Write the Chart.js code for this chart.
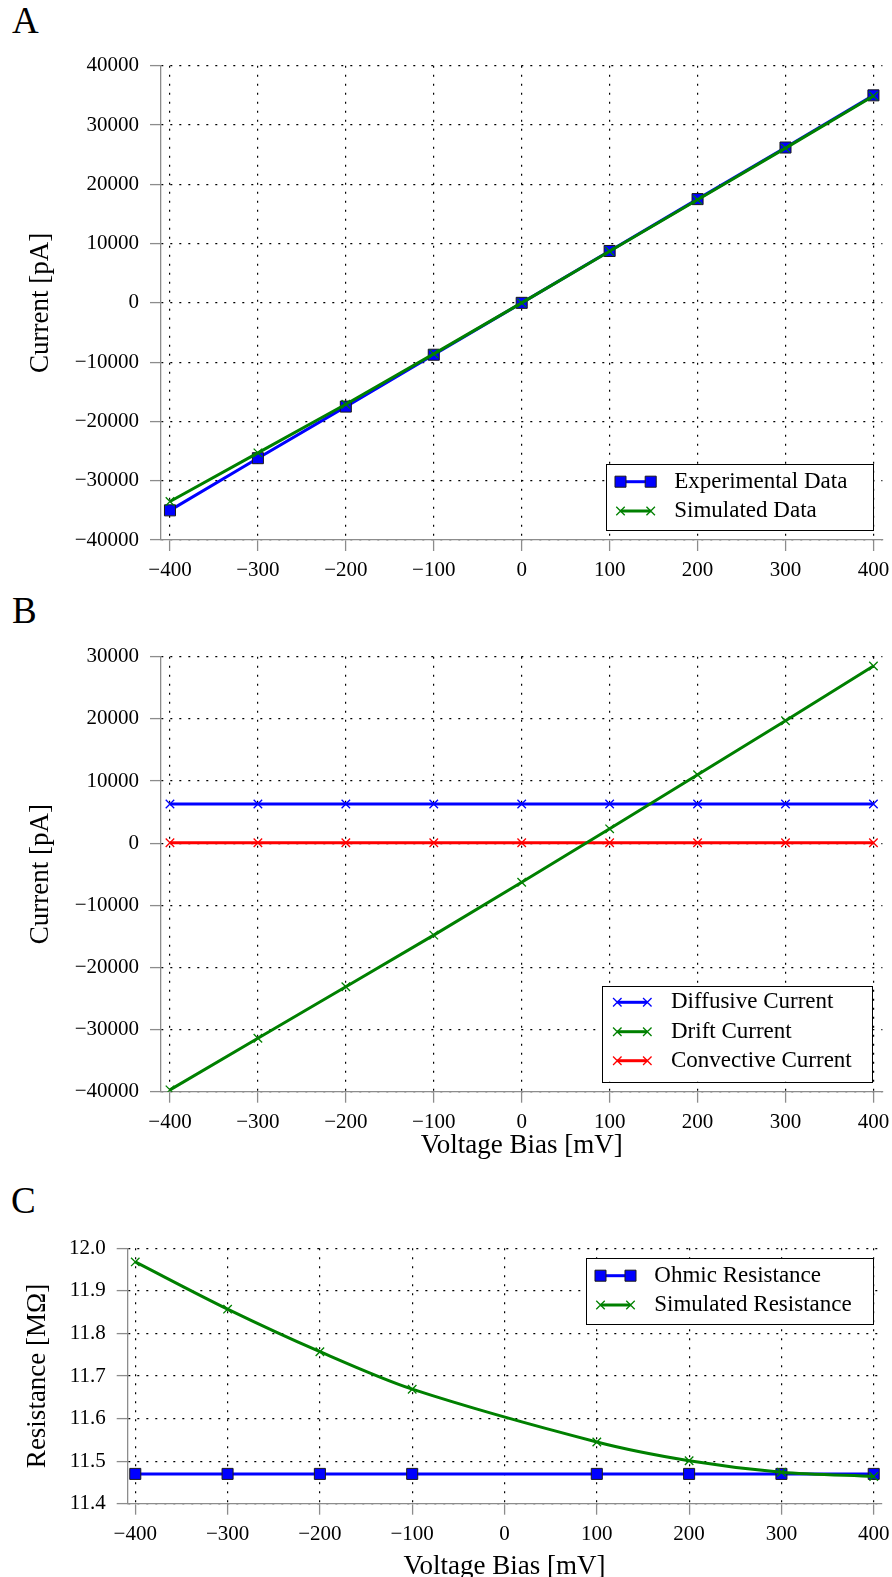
<!DOCTYPE html>
<html><head><meta charset="utf-8">
<script src="https://cdn.jsdelivr.net/npm/chart.js@4.4.1/dist/chart.umd.min.js"></script>
<style>
html,body{margin:0;padding:0;overflow:hidden;background:#fff;width:892px;height:1577px;}
canvas{position:absolute;left:0;}
.panel{position:absolute;font-family:"Liberation Serif",serif;font-size:37px;line-height:37px;color:#000;}
</style></head><body>
<div class="panel" style="left:12px;top:2px">A</div>
<div class="panel" style="left:12px;top:592px">B</div>
<div class="panel" style="left:11px;top:1182px">C</div>
<canvas id="cA" width="892" height="600" style="top:0px"></canvas>
<canvas id="cB" width="892" height="565" style="top:600px"></canvas>
<canvas id="cC" width="892" height="420" style="top:1165px"></canvas>
<script>
// ---------- data ----------
const voltage = [-400, -300, -200, -100, 0, 100, 200, 300, 400];
const expCurrent = [-35000, -26200, -17500, -8750, 0, 8750, 17500, 26200, 35000];
const simCurrent = [-33500, -25300, -17100, -8600, 0, 8700, 17400, 26100, 34900];
const diffusiveCurrent = [6300, 6300, 6300, 6300, 6300, 6300, 6300, 6300, 6300];
const driftCurrent = [-39700, -31400, -23100, -14800, -6300, 2300, 11000, 19700, 28500];
const convectiveCurrent = [50, 50, 50, 50, 50, 50, 50, 50, 50];
const resVoltage = [-400, -300, -200, -100, 100, 200, 300, 400];
const ohmicRes = [11.47, 11.47, 11.47, 11.47, 11.47, 11.47, 11.47, 11.47];
const simRes = [11.968, 11.857, 11.757, 11.669, 11.545, 11.501, 11.474, 11.464];
const xTicks = [-400, -300, -200, -100, 0, 100, 200, 300, 400];
const yTicksA = [-40000, -30000, -20000, -10000, 0, 10000, 20000, 30000, 40000];
const yTicksB = [-40000, -30000, -20000, -10000, 0, 10000, 20000, 30000];
const yTicksC = [11.4, 11.5, 11.6, 11.7, 11.8, 11.9, 12.0];

// ---------- styling helpers ----------
const FONT = '"Liberation Serif", serif';
const BLUE = '#0000ff', GREEN = '#008000', RED = '#ff0000';
const pts = (xs, ys) => xs.map((x, i) => ({x: x, y: ys[i]}));
const minus = s => String(s).replace('-', '\u2212');

function drawMarker(ctx, ds, x, y) {
  const r = ds.pointRadius;
  ctx.save();
  if (ds.pointStyle === 'rect') {
    const h = Math.SQRT1_2 * r;
    ctx.fillStyle = ds.pointBackgroundColor;
    ctx.strokeStyle = ds.pointBorderColor;
    ctx.lineWidth = ds.pointBorderWidth;
    ctx.beginPath(); ctx.rect(x - h, y - h, 2 * h, 2 * h); ctx.fill(); ctx.stroke();
  } else {
    const o = Math.SQRT1_2 * r;
    ctx.strokeStyle = ds.pointBorderColor;
    ctx.lineWidth = ds.pointBorderWidth;
    ctx.beginPath();
    ctx.moveTo(x - o, y - o); ctx.lineTo(x + o, y + o);
    ctx.moveTo(x - o, y + o); ctx.lineTo(x + o, y - o);
    ctx.stroke();
  }
  ctx.restore();
}

const customLegend = {
  id: 'customLegend',
  afterDraw(chart, args, opts) {
    if (!opts || !opts.box) return;
    const ctx = chart.ctx;
    const [x1, y1, x2, y2] = opts.box;
    ctx.save();
    ctx.fillStyle = '#fff';
    ctx.fillRect(x1, y1, x2 - x1, y2 - y1);
    ctx.strokeStyle = '#000'; ctx.lineWidth = 1;
    ctx.strokeRect(Math.round(x1) + 0.5, Math.round(y1) + 0.5, Math.round(x2 - x1), Math.round(y2 - y1));
    opts.rows.forEach((di, i) => {
      const ds = chart.data.datasets[di];
      const y = opts.rowY[i];
      ctx.strokeStyle = ds.borderColor; ctx.lineWidth = ds.borderWidth;
      ctx.beginPath(); ctx.moveTo(opts.mx[0], y); ctx.lineTo(opts.mx[1], y); ctx.stroke();
      opts.mx.forEach(mx => drawMarker(ctx, ds, mx, y));
      ctx.fillStyle = '#000';
      ctx.font = opts.fontSize + 'px ' + FONT;
      ctx.textBaseline = 'middle'; ctx.textAlign = 'left';
      ctx.fillText(ds.label, opts.textX, y);
    });
    ctx.restore();
  }
};

function gridOpts() {
  return {color: '#000', lineWidth: 1.2, drawTicks: true, tickLength: 11, tickColor: '#8c8c8c', tickWidth: 1.3};
}
function borderOpts() {
  return {display: true, color: '#8c8c8c', width: 1.3, dash: [2, 7]};
}

function makeScales(c) {
  return {
    x: {
      type: 'linear', min: c.xmin, max: c.xmax,
      afterBuildTicks: s => { s.ticks = xTicks.map(v => ({value: v})); },
      afterFit: s => { s.height = c.xh; s.paddingLeft = 0; s.paddingRight = 0; },
      ticks: {autoSkip: false, maxRotation: 0, padding: 7, color: '#000',
              font: {family: FONT, size: 21}, callback: v => minus(v)},
      grid: gridOpts(), border: borderOpts(),
      title: c.xTitle ? {display: true, text: c.xTitle, color: '#000',
              font: {family: FONT, size: 27}, padding: {top: 0, bottom: c.xTitlePad}} : {display: false}
    },
    y: {
      type: 'linear', min: c.ymin, max: c.ymax,
      afterBuildTicks: s => { s.ticks = c.yTicks.map(v => ({value: v})); },
      afterFit: s => { s.width = c.yw; s.paddingTop = 0; s.paddingBottom = 0; },
      ticks: {autoSkip: false, padding: 11, color: '#000',
              font: {family: FONT, size: 21}, callback: c.yFmt},
      grid: gridOpts(), border: borderOpts(),
      title: {display: true, text: c.yTitle, color: '#000',
              font: {family: FONT, size: 27}, padding: {top: c.yTitlePad, bottom: 0}}
    }
  };
}

function baseOptions(c, legend) {
  return {
    responsive: false, animation: false,
    layout: {padding: {left: 0, top: c.top, right: c.right, bottom: 0}},
    plugins: {legend: {display: false}, tooltip: {enabled: false}, customLegend: legend},
    scales: makeScales(c)
  };
}

const squareSeries = (label, data, order) => ({
  label, data, order, borderColor: BLUE, borderWidth: 3,
  pointStyle: 'rect', pointRadius: 7.8, pointBackgroundColor: BLUE,
  pointBorderColor: '#1a1a1a', pointBorderWidth: 1, tension: 0, fill: false
});
const crossSeries = (label, data, color, order, tension) => ({
  label, data, order, borderColor: color, borderWidth: 3,
  pointStyle: 'crossRot', pointRadius: 6, pointBackgroundColor: color,
  pointBorderColor: color, pointBorderWidth: 1.3, tension: tension || 0, fill: false
});

// ---------- Chart A ----------
new Chart(document.getElementById('cA'), {
  type: 'line',
  data: {datasets: [
    squareSeries('Experimental Data', pts(voltage, expCurrent), 2),
    crossSeries('Simulated Data', pts(voltage, simCurrent), GREEN, 1)
  ]},
  options: baseOptions({
    top: 65.7, right: 9.6, xmin: -410.2, xmax: 410.2, ymin: -40000, ymax: 40000,
    yTicks: yTicksA, yFmt: v => minus(v), yw: 161, xh: 60,
    yTitle: 'Current [pA]', yTitlePad: 25
  }, {box: [605.7, 464.3, 873, 530], rows: [0, 1], rowY: [481.7, 511], mx: [620.5, 650.7], textX: 674.3, fontSize: 23}),
  plugins: [customLegend]
});

// ---------- Chart B ----------
new Chart(document.getElementById('cB'), {
  type: 'line',
  data: {datasets: [
    crossSeries('Diffusive Current', pts(voltage, diffusiveCurrent), BLUE, 3),
    crossSeries('Drift Current', pts(voltage, driftCurrent), GREEN, 1),
    crossSeries('Convective Current', pts(voltage, convectiveCurrent), RED, 2)
  ]},
  options: baseOptions({
    top: 56.7, right: 9.6, xmin: -410.2, xmax: 410.2, ymin: -40000, ymax: 30000,
    yTicks: yTicksB, yFmt: v => minus(v), yw: 161, xh: 73.3,
    yTitle: 'Current [pA]', yTitlePad: 25, xTitle: 'Voltage Bias [mV]', xTitlePad: 3.3
  }, {box: [602.3 , 385.7, 872.7, 481.7], rows: [0, 1, 2], rowY: [402.3, 431.7, 460.7], mx: [617.3, 647.3], textX: 671, fontSize: 23}),
  plugins: [customLegend]
});

// ---------- Chart C ----------
new Chart(document.getElementById('cC'), {
  type: 'line',
  data: {datasets: [
    squareSeries('Ohmic Resistance', pts(resVoltage, ohmicRes), 2),
    crossSeries('Simulated Resistance', pts(resVoltage, simRes), GREEN, 1, 0.3)
  ]},
  options: baseOptions({
    top: 83.3, right: 10.7, xmin: -408.2, xmax: 408.2, ymin: 11.4, ymax: 12.0,
    yTicks: yTicksC, yFmt: v => Number(v).toFixed(1), yw: 127.7, xh: 81.3,
    yTitle: 'Resistance [M\u03A9]', yTitlePad: 21.3, xTitle: 'Voltage Bias [mV]', xTitlePad: 1.5
  }, {box: [585.7, 93.3, 872.3, 159], rows: [0, 1], rowY: [110.7, 140], mx: [600.5, 630.5], textX: 654.3, fontSize: 23}),
  plugins: [customLegend]
});
</script>
</body></html>
